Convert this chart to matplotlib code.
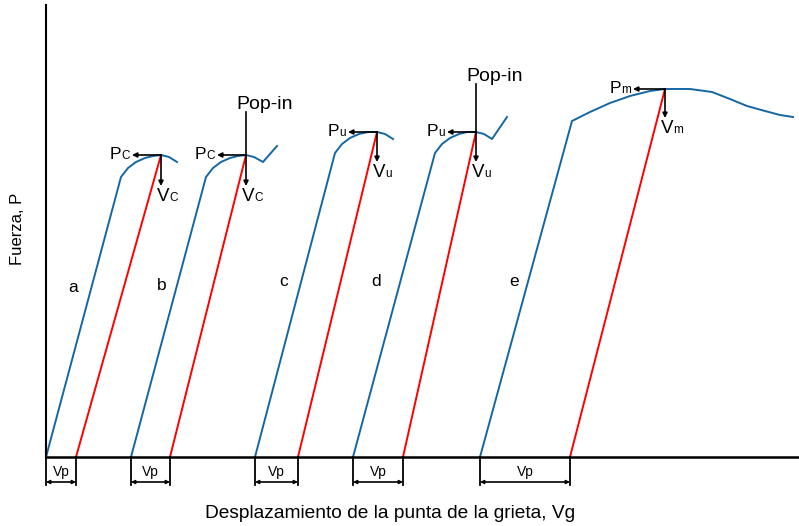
import matplotlib
matplotlib.use("Agg")
import matplotlib.pyplot as plt

plt.rcParams['font.family'] = ['Liberation Sans', 'DejaVu Sans']

# Coordinates: x in px from left of figure, y read in picture px (converted to height above baseline)
BASE = 457
labels = ['a', 'b', 'c', 'd', 'e']
origins = [46, 131, 255, 353, 480]          # blue start on baseline
red_starts = [76, 170, 298, 403, 570]        # red start on baseline
blue_curves = [
    [(121, 177), (128, 168), (136, 162), (145, 158), (153, 156), (161, 155), (169, 157), (177, 162)],
    [(206, 177), (213, 168), (221, 162), (230, 158), (238, 156), (246, 155), (254, 157), (263, 162), (277, 146)],
    [(335, 153), (342, 144), (350, 138), (359, 134), (368, 132), (377, 132), (385, 134), (393, 139)],
    [(435, 153), (442, 144), (450, 138), (459, 134), (467, 132), (476, 132), (484, 134), (492, 139), (507, 117)],
    [(572, 121), (590, 112), (610, 103), (630, 96), (650, 91), (665, 89), (690, 89), (712, 92), (730, 99),
     (747, 106), (765, 111), (780, 115), (793, 117)],
]
peaks = [(161, 155), (246, 155), (377, 132), (476, 132), (665, 89)]
p_arrow_end = [132, 217, 348, 447, 633]
v_arrow_end = [186, 186, 162, 162, 118]
p_main = 'P'
v_main = 'V'
p_sub = ['C', 'C', 'u', 'u', 'm']
popin = [False, True, False, True, False]
popin_top = [112, 84]
letter_pos = [(73, 287), (162, 285), (284, 282), (376, 282), (514, 282)]

BLUE = '#1467A3'
RED = '#FF0000'

def Y(py):
    return BASE - py

fig = plt.figure(figsize=(7.99, 5.26), dpi=100)
W, H = 799, 526
ax = fig.add_axes([46 / W, (H - BASE) / H, (798 - 46) / W, (BASE - 5) / H])
ax.set_xlim(46, 798)
ax.set_ylim(0, BASE - 5)
for s in ['top', 'right']:
    ax.spines[s].set_visible(False)
ax.spines['left'].set_linewidth(1.5)
ax.spines['bottom'].set_linewidth(1.8)
ax.set_xticks([])
ax.set_yticks([])
renderer = fig.canvas.get_renderer()

def width_px(t):
    return t.get_window_extent(renderer).width

arrow_kw = dict(arrowstyle='-|>', color='black', lw=1.2, mutation_scale=7, shrinkA=0, shrinkB=0)
pop_i = 0
for i in range(5):
    xs = [origins[i]] + [p[0] for p in blue_curves[i]]
    ys = [0] + [Y(p[1]) for p in blue_curves[i]]
    ax.plot(xs, ys, color=BLUE, lw=1.4, solid_joinstyle='round', clip_on=False)
    px, py = peaks[i]
    ax.plot([red_starts[i], px], [0, Y(py)], color=RED, lw=1.4, clip_on=False)
    if popin[i]:
        top = popin_top[pop_i]
        pop_i += 1
        ax.plot([px, px], [Y(py), Y(top)], color='black', lw=1.2)
        ax.text(px - 10, Y(top - 3), 'Pop-in', ha='left', va='baseline', fontsize=14)
    # P arrow
    ax.annotate('', xy=(p_arrow_end[i], Y(py)), xytext=(px, Y(py)), arrowprops=arrow_kw)
    # V arrow
    ax.annotate('', xy=(px, Y(v_arrow_end[i])), xytext=(px, Y(py)), arrowprops=arrow_kw)
    # P label (main letter + small letter on same baseline)
    sub = ax.text(p_arrow_end[i] - 2, Y(py + 4), p_sub[i], ha='right', va='baseline', fontsize=8.5)
    sw = width_px(sub)
    ax.text(p_arrow_end[i] - 2 - sw, Y(py + 4), p_main, ha='right', va='baseline', fontsize=12.5)
    # V label
    vt = ax.text(px - 4, Y(v_arrow_end[i] + 15), v_main, ha='left', va='baseline', fontsize=13.5)
    vw = width_px(vt)
    ax.text(px - 4 + vw, Y(v_arrow_end[i] + 15), p_sub[i], ha='left', va='baseline', fontsize=8.5)
    lx, ly = letter_pos[i]
    ax.text(lx, Y(ly), labels[i], ha='center', va='center', fontsize=12.5)
    # Vp bracket
    x0, x1 = origins[i], red_starts[i]
    for xx in (x0, x1):
        ax.plot([xx, xx], [0, Y(485)], color='black', lw=1.3, clip_on=False)
    ax.annotate('', xy=(x1, Y(482)), xytext=(x0, Y(482)), annotation_clip=False,
                arrowprops=dict(arrowstyle='<|-|>', color='black', lw=1.2, mutation_scale=5,
                                shrinkA=0, shrinkB=0))
    ax.text((x0 + x1) / 2, Y(472), 'Vp', ha='center', va='center', fontsize=10, clip_on=False)

fig.text(18 / W, 1 - 229 / H, 'Fuerza, P', rotation=90, ha='center', va='center', fontsize=12)
fig.text(390 / W, 1 - 513 / H, 'Desplazamiento de la punta de la grieta, Vg',
         ha='center', va='center', fontsize=13.8)

fig.savefig('out.png', dpi=100)
